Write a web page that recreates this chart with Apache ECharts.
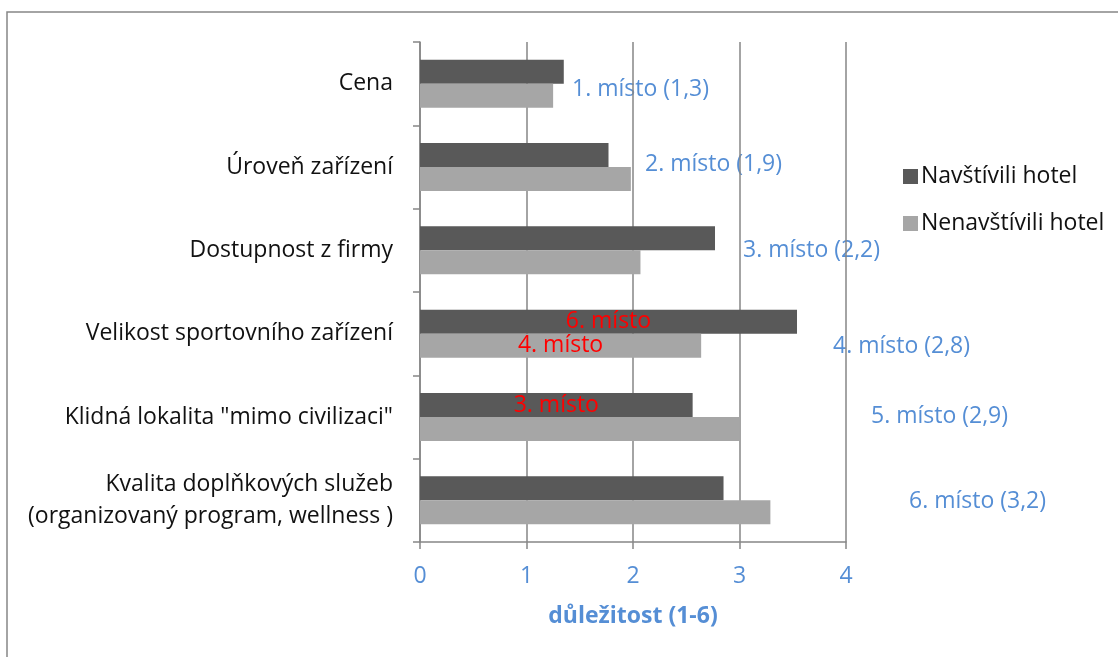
<!DOCTYPE html>
<html>
<head>
<meta charset="utf-8">
<script src="https://cdn.jsdelivr.net/npm/echarts@6/dist/echarts.min.js"></script>
<style>
  html, body { margin: 0; padding: 0; background: #ffffff; }
  #chart { width: 1118px; height: 657px; }
</style>
</head>
<body>
<div id="chart"></div>
<script>
// Hotel selection criteria, ranked by importance (1–6)
const categories = [
  'Cena',
  'Úroveň zařízení',
  'Dostupnost z firmy',
  'Velikost sportovního zařízení',
  'Klidná lokalita "mimo civilizaci"',
  'Kvalita doplňkových služeb\n(organizovaný program, wellness )'
];
const seriesNames = ['Navštívili hotel', 'Nenavštívili hotel'];
const visited = [1.35, 1.77, 2.77, 3.54, 2.56, 2.85];
const notVisited = [1.25, 1.98, 2.07, 2.64, 3.00, 3.29];

// rank notes written on individual bars
const visitedRank = ['', '', '', '6. místo', '3. místo', ''];
const notVisitedRank = ['', '', '', '4. místo', '', ''];

// overall rank with combined score, one per category
const overallRank = [
  '1. místo (1,3)',
  '2. místo (1,9)',
  '3. místo (2,2)',
  '4. místo (2,8)',
  '5. místo (2,9)',
  '6. místo (3,2)'
];
// where each overall-rank note sits on the page
const overallRankPos = [
  [572, 89], [645, 164], [743, 250], [833, 346], [871, 416], [909, 501]
];

const axisMin = 0, axisMax = 4, axisStep = 1;
const axisTitle = 'důležitost (1-6)';

const FONT = '"Open Sans", "Noto Sans", sans-serif';
const BLUE = '#558ED5';
const GRID_GRAY = '#868686';

function withRankLabels(values, ranks) {
  return values.map((v, i) => ranks[i]
    ? { value: v, label: { show: true, formatter: ranks[i] } }
    : v);
}

const chart = echarts.init(document.getElementById('chart'));

const rankNotes = overallRank.map((t, i) => ({
  type: 'text',
  x: overallRankPos[i][0],
  y: overallRankPos[i][1],
  style: {
    text: t,
    fill: BLUE,
    font: '23px ' + FONT,
    verticalAlign: 'middle',
    align: 'left'
  }
}));

chart.setOption({
  backgroundColor: '#ffffff',
  animation: false,
  textStyle: { fontFamily: FONT },
  grid: { left: 420, right: 272, top: 42, bottom: 115, containLabel: false },
  legend: {
    orient: 'vertical',
    left: 898,
    top: 158,
    itemWidth: 15,
    itemHeight: 15,
    itemGap: 20,
    icon: 'rect',
    data: seriesNames,
    textStyle: { fontFamily: FONT, fontSize: 23, color: '#111111', lineHeight: 27, padding: [0, 0, 0, -2] }
  },
  xAxis: {
    type: 'value',
    min: axisMin,
    max: axisMax,
    interval: axisStep,
    name: axisTitle,
    nameLocation: 'middle',
    nameGap: 63,
    nameTextStyle: { color: BLUE, fontSize: 23, fontWeight: 'bold', fontFamily: FONT },
    axisLine: { show: true, lineStyle: { color: GRID_GRAY, width: 1.5 } },
    axisTick: { show: true, length: 7, lineStyle: { color: GRID_GRAY, width: 1.5 } },
    axisLabel: { color: BLUE, fontSize: 23, margin: 23, fontFamily: FONT },
    splitLine: { show: true, lineStyle: { color: GRID_GRAY, width: 1.5 } }
  },
  yAxis: {
    type: 'category',
    inverse: true,
    data: categories,
    axisLine: { show: true, lineStyle: { color: GRID_GRAY, width: 1.5 } },
    axisTick: { show: true, length: 7, inside: false, lineStyle: { color: GRID_GRAY, width: 1.5 } },
    axisLabel: { color: '#111111', fontSize: 23, margin: 27, lineHeight: 32, align: 'right', fontFamily: FONT },
    splitLine: { show: false }
  },
  series: [
    {
      name: seriesNames[0],
      type: 'bar',
      data: withRankLabels(visited, visitedRank),
      barWidth: 24,
      barGap: '0%',
      itemStyle: { color: '#595959' },
      label: { show: false, position: 'inside', color: '#FF0000', fontSize: 23, fontFamily: FONT }
    },
    {
      name: seriesNames[1],
      type: 'bar',
      data: withRankLabels(notVisited, notVisitedRank),
      barWidth: 24,
      barGap: '0%',
      itemStyle: { color: '#A6A6A6' },
      label: { show: false, position: 'inside', color: '#FF0000', fontSize: 23, fontFamily: FONT }
    }
  ],
  graphic: [
    // chart frame (left and top edges)
    { type: 'polyline', shape: { points: [[7, 657], [7, 12], [1118, 12]] },
      style: { stroke: GRID_GRAY, lineWidth: 1.5, fill: null }, silent: true }
  ].concat(rankNotes)
});
</script>
</body>
</html>
